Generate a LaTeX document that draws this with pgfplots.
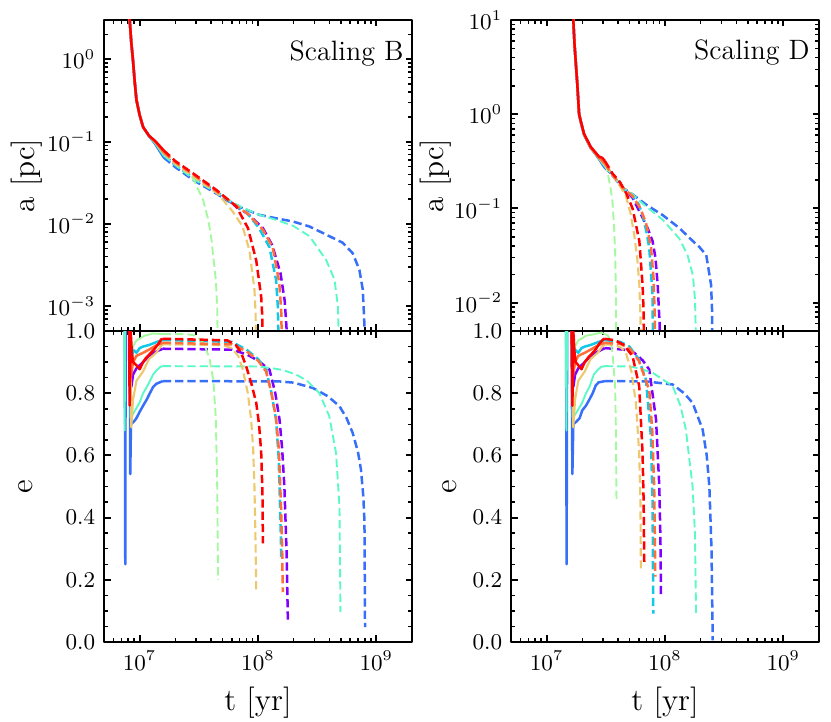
\documentclass[border=0pt]{standalone}
\usepackage{pgfplots}
\pgfplotsset{compat=1.18}
\definecolor{c0}{RGB}{128,0,255}
\definecolor{c1}{RGB}{55,111,249}
\definecolor{c2}{RGB}{18,200,230}
\definecolor{c3}{RGB}{91,249,200}
\definecolor{c4}{RGB}{164,249,159}
\definecolor{c5}{RGB}{237,200,111}
\definecolor{c6}{RGB}{255,111,57}
\definecolor{c7}{RGB}{255,0,0}
\tikzset{
 p0/.style={c0, line width=1.0pt},
 p1/.style={c1, line width=1.0pt},
 p2/.style={c2, line width=1.0pt},
 p3/.style={c3, line width=0.75pt},
 p4/.style={c4, line width=0.75pt},
 p5/.style={c5, line width=0.85pt},
 p6/.style={c6, line width=1.0pt},
 p7/.style={c7, line width=1.0pt},
 dsh/.style={dash pattern=on 3.3pt off 1.6pt},
}
\pgfplotsset{
 mypanel/.style={scale only axis, width=123.2pt, height=124.4pt, anchor=north west,
   xmin=5e6, xmax=2e9, xtick={1e7,1e8,1e9},
   minor xtick={6e6,7e6,8e6,9e6,2e7,3e7,4e7,5e7,6e7,7e7,8e7,9e7,2e8,3e8,4e8,5e8,6e8,7e8,8e8,9e8},
   tick align=inside, xtick pos=both, ytick pos=both,
   axis line style={line width=1.1pt},
   major tick length=2.6pt, minor tick length=1.5pt,
   every major tick/.append style={line width=0.8pt, black},
   every minor tick/.append style={line width=0.6pt, black},
   tick label style={font=\fontsize{9}{10}\selectfont},
   label style={font=\fontsize{12.5}{14}\selectfont}},
 mytopa/.style={mypanel, xticklabels={,,}, ylabel={a [pc]}},
 mybote/.style={mypanel, ymin=0, ymax=1, ytick={0,0.2,0.4,0.6,0.8,1.0}, minor y tick num=3,
   xlabel={t [yr]}, ylabel={e},
   yticklabel style={/pgf/number format/.cd, fixed, fixed zerofill, precision=1}},
}
\begin{document}
\begin{tikzpicture}[line join=round]
\useasboundingbox (0,0) rectangle (332.4pt,-288.8pt);
% ---------------- top left: Scaling B, a
\begin{axis}[xmode=log, ymode=log, mytopa, at={(41.6pt,-8pt)}, ymin=5e-4, ymax=3, ytick={1e-3,1e-2,1e-1,1},
  minor ytick={6e-4,7e-4,8e-4,9e-4,2e-3,3e-3,4e-3,5e-3,6e-3,7e-3,8e-3,9e-3,2e-2,3e-2,4e-2,5e-2,6e-2,7e-2,8e-2,9e-2,2e-1,3e-1,4e-1,5e-1,6e-1,7e-1,8e-1,9e-1,2},
  ylabel style={at={(rel axis cs:-0.25,0.5)}, anchor=center}]
\addplot[p0] coordinates {(7.6e6,100) (8.0e6,8) (8.24e6,3.0) (8.5e6,1.6) (8.77e6,1.0) (9.1e6,0.52) (9.4e6,0.32) (1.0e7,0.21) (1.07e7,0.15) (1.2e7,0.117) (1.35e7,0.097) (1.6e7,0.069)};
\addplot[p0,dsh] coordinates {(1.6e7,0.069) (2.0e7,0.052) (2.82e7,0.037) (4.44e7,0.0245) (6.55e7,0.0162) (8.22e7,0.0132) (1.1e8,0.0089) (1.32e8,0.0055) (1.55e8,0.0025) (1.68e8,0.00117) (1.74e8,0.00056) (1.78e8,0.0001)};
\addplot[p1] coordinates {(7.6e6,100) (8.0e6,8) (8.24e6,3.0) (8.5e6,1.6) (8.77e6,1.0) (9.1e6,0.52) (9.4e6,0.32) (1.0e7,0.21) (1.07e7,0.15) (1.2e7,0.117) (1.35e7,0.094) (1.6e7,0.064)};
\addplot[p1,dsh] coordinates {(1.6e7,0.064) (2.0e7,0.049) (2.82e7,0.0343) (4.44e7,0.0234) (5.4e7,0.0195) (7.41e7,0.0155) (1.02e8,0.0129) (1.42e8,0.0117) (1.97e8,0.0107) (2.72e8,0.0093) (3.77e8,0.0074) (5.2e8,0.0059) (6.31e8,0.0044) (7.19e8,0.00275) (7.67e8,0.0016) (7.93e8,0.00059) (8.0e8,0.0001)};
\addplot[p2] coordinates {(7.6e6,100) (8.0e6,8) (8.24e6,3.0) (8.5e6,1.6) (8.77e6,1.0) (9.1e6,0.52) (9.4e6,0.32) (1.0e7,0.21) (1.07e7,0.15) (1.2e7,0.117) (1.35e7,0.097) (1.6e7,0.068)};
\addplot[p2,dsh] coordinates {(1.6e7,0.068) (2.0e7,0.052) (2.82e7,0.0363) (4.44e7,0.0245) (6.55e7,0.0166) (8.22e7,0.0132) (1.02e8,0.0089) (1.25e8,0.0052) (1.42e8,0.0021) (1.47e8,0.001) (1.52e8,0.0001)};
\addplot[p3] coordinates {(7.6e6,100) (8.0e6,8) (8.24e6,3.0) (8.5e6,1.6) (8.77e6,1.0) (9.1e6,0.52) (9.4e6,0.32) (1.0e7,0.21) (1.07e7,0.15) (1.2e7,0.117) (1.35e7,0.096) (1.6e7,0.068)};
\addplot[p3,dsh] coordinates {(1.6e7,0.068) (2.0e7,0.052) (2.82e7,0.0355) (4.44e7,0.024) (5.4e7,0.020) (7.41e7,0.0158) (1.02e8,0.0129) (1.42e8,0.0112) (1.97e8,0.0095) (2.72e8,0.0071) (3.77e8,0.00363) (4.43e8,0.0021) (4.73e8,0.001) (4.95e8,0.0001)};
\addplot[p4] coordinates {(7.6e6,100) (8.0e6,8) (8.24e6,3.0) (8.5e6,1.6) (8.77e6,1.0) (9.1e6,0.52) (9.4e6,0.32) (1.0e7,0.21) (1.07e7,0.15) (1.2e7,0.117) (1.35e7,0.1) (1.6e7,0.073)};
\addplot[p4,dsh] coordinates {(1.6e7,0.073) (2.24e7,0.050) (2.82e7,0.036) (3.44e7,0.0195) (3.8e7,0.0112) (4.04e7,0.0065) (4.4e7,0.0021) (4.52e7,0.001) (4.62e7,0.0001)};
\addplot[p5] coordinates {(7.6e6,100) (8.0e6,8) (8.24e6,3.0) (8.5e6,1.6) (8.77e6,1.0) (9.1e6,0.52) (9.4e6,0.32) (1.0e7,0.21) (1.07e7,0.15) (1.2e7,0.117) (1.35e7,0.099) (1.6e7,0.072)};
\addplot[p5,dsh] coordinates {(1.6e7,0.072) (2.0e7,0.054) (2.82e7,0.038) (4.44e7,0.024) (5.0e7,0.020) (6.12e7,0.0141) (7.41e7,0.0093) (8.45e7,0.0048) (9.33e7,0.0016) (9.55e7,0.0008) (9.66e7,0.0001)};
\addplot[p6] coordinates {(7.6e6,100) (8.0e6,8) (8.24e6,3.0) (8.5e6,1.6) (8.77e6,1.0) (9.1e6,0.52) (9.4e6,0.32) (1.0e7,0.21) (1.07e7,0.15) (1.2e7,0.117) (1.35e7,0.1) (1.6e7,0.074)};
\addplot[p6,dsh] coordinates {(1.6e7,0.074) (2.0e7,0.056) (2.82e7,0.040) (4.44e7,0.025) (6.55e7,0.0166) (8.22e7,0.0132) (1.1e8,0.0085) (1.33e8,0.0052) (1.51e8,0.00195) (1.57e8,0.0009) (1.62e8,0.0001)};
\addplot[p7] coordinates {(7.6e6,100) (8.0e6,8) (8.24e6,3.0) (8.5e6,1.6) (8.77e6,1.0) (9.1e6,0.52) (9.4e6,0.32) (1.0e7,0.21) (1.07e7,0.15) (1.2e7,0.118) (1.35e7,0.102) (1.6e7,0.078)};
\addplot[p7,dsh] coordinates {(1.6e7,0.078) (2.0e7,0.058) (2.82e7,0.0412) (4.44e7,0.0259) (6.55e7,0.0163) (8.22e7,0.0089) (9.66e7,0.0036) (1.064e8,0.0013) (1.09e8,0.0007) (1.1e8,0.0001)};
\node[anchor=base east, font=\fontsize{11.2}{13}\selectfont, inner sep=0pt] at (rel axis cs:0.974,0.871) {Scaling B};
\end{axis}
% ---------------- top right: Scaling D, a
\begin{axis}[xmode=log, ymode=log, mytopa, at={(204.4pt,-8pt)}, ymin=5e-3, ymax=10, ytick={1e-2,1e-1,1,10},
  minor ytick={6e-3,7e-3,8e-3,9e-3,2e-2,3e-2,4e-2,5e-2,6e-2,7e-2,8e-2,9e-2,2e-1,3e-1,4e-1,5e-1,6e-1,7e-1,8e-1,9e-1,2,3,4,5,6,7,8,9},
  ylabel style={at={(rel axis cs:-0.243,0.5)}, anchor=center}]
\addplot[p0] coordinates {(1.55e7,300) (1.65e7,25) (1.68e7,10) (1.72e7,5.5) (1.815e7,2.1) (1.88e7,1.0) (1.95e7,0.82) (2.07e7,0.61) (2.36e7,0.44) (2.77e7,0.344) (3.1e7,0.285)};
\addplot[p0,dsh] coordinates {(3.1e7,0.285) (3.6e7,0.225) (4.38e7,0.165) (5.32e7,0.13) (6.46e7,0.08) (7.2e7,0.06) (7.85e7,0.045) (8.3e7,0.03) (8.67e7,0.0155) (9.0e7,0.006) (9.25e7,0.001)};
\addplot[p1] coordinates {(1.55e7,300) (1.65e7,25) (1.68e7,10) (1.72e7,5.5) (1.815e7,2.1) (1.88e7,1.0) (1.95e7,0.82) (2.07e7,0.61) (2.36e7,0.44) (2.77e7,0.335) (3.1e7,0.27)};
\addplot[p1,dsh] coordinates {(3.1e7,0.27) (3.6e7,0.228) (4.38e7,0.166) (5.32e7,0.141) (6.9e7,0.11) (9.55e7,0.085) (1.32e8,0.062) (1.72e8,0.045) (1.95e8,0.039) (2.23e8,0.032) (2.45e8,0.0155) (2.5e8,0.008) (2.53e8,0.001)};
\addplot[p2] coordinates {(1.55e7,300) (1.65e7,25) (1.68e7,10) (1.72e7,5.5) (1.815e7,2.1) (1.88e7,1.0) (1.95e7,0.82) (2.07e7,0.61) (2.36e7,0.44) (2.77e7,0.34) (3.1e7,0.285)};
\addplot[p2,dsh] coordinates {(3.1e7,0.285) (3.6e7,0.225) (4.38e7,0.166) (5.32e7,0.135) (6.0e7,0.11) (6.46e7,0.085) (7.0e7,0.055) (7.36e7,0.038) (7.85e7,0.012) (7.96e7,0.001)};
\addplot[p3] coordinates {(1.55e7,300) (1.65e7,25) (1.68e7,10) (1.72e7,5.5) (1.815e7,2.1) (1.88e7,1.0) (1.95e7,0.82) (2.07e7,0.61) (2.36e7,0.44) (2.77e7,0.338) (3.1e7,0.28)};
\addplot[p3,dsh] coordinates {(3.1e7,0.28) (3.6e7,0.23) (4.38e7,0.166) (5.32e7,0.141) (6.9e7,0.105) (9.55e7,0.076) (1.32e8,0.048) (1.55e8,0.032) (1.72e8,0.0195) (1.79e8,0.011) (1.82e8,0.005) (1.84e8,0.001)};
\addplot[p4] coordinates {(1.55e7,300) (1.65e7,25) (1.68e7,10) (1.72e7,5.5) (1.815e7,2.1) (1.88e7,1.0) (1.95e7,0.82) (2.07e7,0.61) (2.36e7,0.44) (2.77e7,0.345) (3.1e7,0.30)};
\addplot[p4,dsh] coordinates {(3.1e7,0.30) (3.25e7,0.25) (3.45e7,0.17) (3.6e7,0.119) (3.72e7,0.06) (3.79e7,0.035) (3.85e7,0.012) (3.89e7,0.001)};
\addplot[p5] coordinates {(1.55e7,300) (1.65e7,25) (1.68e7,10) (1.72e7,5.5) (1.815e7,2.1) (1.88e7,1.0) (1.95e7,0.82) (2.07e7,0.61) (2.36e7,0.44) (2.77e7,0.342) (3.1e7,0.29)};
\addplot[p5,dsh] coordinates {(3.1e7,0.29) (3.6e7,0.225) (4.2e7,0.17) (4.67e7,0.135) (5.1e7,0.09) (5.5e7,0.052) (5.85e7,0.028) (6.07e7,0.0155) (6.2e7,0.007) (6.25e7,0.001)};
\addplot[p6] coordinates {(1.55e7,300) (1.65e7,25) (1.68e7,10) (1.72e7,5.5) (1.815e7,2.1) (1.88e7,1.0) (1.95e7,0.82) (2.07e7,0.61) (2.36e7,0.44) (2.77e7,0.345) (3.1e7,0.30)};
\addplot[p6,dsh] coordinates {(3.1e7,0.30) (3.6e7,0.228) (4.38e7,0.167) (5.32e7,0.135) (6.2e7,0.1) (6.9e7,0.07) (7.6e7,0.04) (8.0e7,0.018) (8.2e7,0.007) (8.28e7,0.001)};
\addplot[p7] coordinates {(1.55e7,300) (1.65e7,25) (1.68e7,10) (1.72e7,5.5) (1.815e7,2.1) (1.88e7,1.0) (1.95e7,0.83) (2.07e7,0.62) (2.36e7,0.45) (2.77e7,0.355) (2.95e7,0.345) (3.1e7,0.32)};
\addplot[p7,dsh] coordinates {(3.1e7,0.32) (3.6e7,0.235) (4.17e7,0.19) (4.7e7,0.145) (5.32e7,0.10) (6.07e7,0.045) (6.46e7,0.0155) (6.6e7,0.008) (6.68e7,0.001)};
\node[anchor=base east, font=\fontsize{11.2}{13}\selectfont, inner sep=0pt] at (rel axis cs:0.971,0.873) {Scaling D};
\end{axis}
% ---------------- bottom left: Scaling B, e
\begin{axis}[xmode=log, mybote, at={(41.6pt,-132.4pt)},
  ylabel style={at={(rel axis cs:-0.255,0.5)}, anchor=center}]
\addplot[p0] coordinates {(8.3e6,1.05) (8.5e6,0.82) (8.8e6,0.86) (9.4e6,0.88) (1.07e7,0.90) (1.2e7,0.92) (1.4e7,0.935) (1.57e7,0.943)};
\addplot[p0,dsh] coordinates {(1.57e7,0.943) (6e7,0.94) (8e7,0.925) (1.0e8,0.905) (1.25e8,0.876) (1.4e8,0.8) (1.52e8,0.715) (1.6e8,0.62) (1.67e8,0.5) (1.74e8,0.3) (1.79e8,0.06)};
\addplot[p1] coordinates {(7.5e6,1.05) (7.56e6,0.25) (7.62e6,1.05) (8.25e6,1.05) (8.33e6,0.54) (8.45e6,0.70) (9.0e6,0.71) (9.4e6,0.72) (1.0e7,0.74) (1.07e7,0.76) (1.15e7,0.78) (1.22e7,0.80) (1.3e7,0.82) (1.38e7,0.83) (1.48e7,0.835) (1.57e7,0.839)};
\addplot[p1,dsh] coordinates {(1.57e7,0.839) (1.5e8,0.838) (2.0e8,0.834) (2.9e8,0.817) (3.9e8,0.79) (4.88e8,0.758) (5.6e8,0.72) (6.31e8,0.672) (7.0e8,0.61) (7.41e8,0.554) (7.75e8,0.47) (7.93e8,0.39) (8.02e8,0.048)};
\addplot[p2] coordinates {(8.2e6,1.05) (8.5e6,0.9) (8.8e6,0.94) (9.4e6,0.93) (1.0e7,0.945) (1.07e7,0.95) (1.2e7,0.955) (1.4e7,0.965) (1.57e7,0.971)};
\addplot[p2,dsh] coordinates {(1.57e7,0.971) (6e7,0.965) (8e7,0.94) (1.0e8,0.91) (1.17e8,0.876) (1.3e8,0.8) (1.42e8,0.715) (1.49e8,0.6) (1.52e8,0.5) (1.555e8,0.35) (1.57e8,0.263)};
\addplot[p3] coordinates {(7.42e6,1.05) (7.48e6,0.68) (7.54e6,1.05) (8.3e6,1.05) (8.4e6,0.72) (9.0e6,0.74) (1.0e7,0.77) (1.07e7,0.80) (1.15e7,0.82) (1.3e7,0.86) (1.4e7,0.875) (1.5e7,0.885) (1.57e7,0.887)};
\addplot[p3,dsh] coordinates {(1.57e7,0.887) (1.0e8,0.886) (1.33e8,0.88) (1.6e8,0.875) (2.1e8,0.86) (2.6e8,0.84) (3.3e8,0.80) (4.0e8,0.726) (4.56e8,0.608) (4.88e8,0.435) (4.97e8,0.097)};
\addplot[p4] coordinates {(8.3e6,1.05) (8.5e6,0.93) (8.8e6,0.95) (9.4e6,0.97) (1.0e7,0.975) (1.1e7,0.985) (1.3e7,0.992) (1.57e7,0.99)};
\addplot[p4,dsh] coordinates {(1.57e7,0.99) (2.5e7,0.99) (3.0e7,0.985) (3.5e7,0.96) (3.9e7,0.91) (4.2e7,0.84) (4.4e7,0.72) (4.52e7,0.5) (4.6e7,0.2)};
\addplot[p5] coordinates {(8.3e6,1.05) (8.5e6,0.69) (8.8e6,0.78) (9.4e6,0.84) (1.07e7,0.87) (1.2e7,0.91) (1.38e7,0.93) (1.5e7,0.95) (1.57e7,0.957)};
\addplot[p5,dsh] coordinates {(1.57e7,0.957) (5.0e7,0.955) (6.0e7,0.945) (6.8e7,0.92) (7.45e7,0.876) (8.2e7,0.8) (8.75e7,0.715) (9.1e7,0.62) (9.33e7,0.5) (9.55e7,0.3) (9.66e7,0.16)};
\addplot[p6] coordinates {(8.2e6,1.05) (8.4e6,0.85) (8.8e6,0.90) (9.4e6,0.92) (1.07e7,0.93) (1.2e7,0.94) (1.4e7,0.955) (1.57e7,0.962)};
\addplot[p6,dsh] coordinates {(1.57e7,0.962) (6e7,0.957) (8e7,0.935) (1.0e8,0.905) (1.17e8,0.87) (1.3e8,0.8) (1.42e8,0.72) (1.5e8,0.62) (1.56e8,0.45) (1.6e8,0.3) (1.62e8,0.16)};
\addplot[p7] coordinates {(8.1e6,1.05) (8.24e6,0.76) (8.4e6,1.0) (8.6e6,0.93) (8.8e6,0.90) (9.4e6,0.89) (1.0e7,0.877) (1.07e7,0.90) (1.14e7,0.915) (1.3e7,0.937) (1.45e7,0.96) (1.52e7,0.973) (1.57e7,0.975)};
\addplot[p7,dsh] coordinates {(1.57e7,0.975) (5.5e7,0.97) (6.5e7,0.955) (7.2e7,0.93) (7.94e7,0.887) (8.8e7,0.83) (9.66e7,0.769) (1.02e8,0.70) (1.064e8,0.61) (1.09e8,0.48) (1.1e8,0.317)};
\end{axis}
% ---------------- bottom right: Scaling D, e
\begin{axis}[xmode=log, mybote, at={(204.4pt,-132.4pt)},
  ylabel style={at={(rel axis cs:-0.2,0.5)}, anchor=center}]
\addplot[p0] coordinates {(1.64e7,1.05) (1.68e7,0.82) (1.74e7,0.86) (1.85e7,0.88) (2.1e7,0.90) (2.35e7,0.92) (2.75e7,0.935) (3.1e7,0.945)};
\addplot[p0,dsh] coordinates {(3.1e7,0.945) (4.5e7,0.94) (5.5e7,0.93) (6.5e7,0.905) (7.36e7,0.876) (8.4e7,0.715) (8.95e7,0.5) (9.15e7,0.33) (9.25e7,0.145)};
\addplot[p1] coordinates {(1.46e7,1.05) (1.475e7,0.25) (1.49e7,1.05) (1.62e7,1.05) (1.65e7,0.54) (1.68e7,0.70) (1.8e7,0.71) (1.9e7,0.72) (2.0e7,0.745) (2.15e7,0.76) (2.3e7,0.78) (2.45e7,0.80) (2.6e7,0.825) (2.75e7,0.835) (2.95e7,0.837) (3.1e7,0.839)};
\addplot[p1,dsh] coordinates {(3.1e7,0.839) (6.9e7,0.838) (8.5e7,0.834) (1.16e8,0.828) (1.45e8,0.80) (1.71e8,0.769) (2.08e8,0.683) (2.25e8,0.6) (2.37e8,0.5) (2.47e8,0.3) (2.53e8,0.005)};
\addplot[p2] coordinates {(1.62e7,1.05) (1.68e7,0.9) (1.74e7,0.94) (1.85e7,0.93) (1.97e7,0.945) (2.1e7,0.95) (2.35e7,0.955) (2.75e7,0.965) (3.1e7,0.971)};
\addplot[p2,dsh] coordinates {(3.1e7,0.971) (4.2e7,0.965) (5.0e7,0.95) (6.0e7,0.91) (6.9e7,0.844) (7.6e7,0.661) (7.85e7,0.45) (7.96e7,0.091)};
\addplot[p3] coordinates {(1.45e7,1.05) (1.47e7,0.68) (1.49e7,1.05) (1.63e7,1.05) (1.66e7,0.72) (1.8e7,0.74) (2.0e7,0.77) (2.15e7,0.80) (2.3e7,0.82) (2.5e7,0.86) (2.7e7,0.875) (2.9e7,0.885) (3.1e7,0.887)};
\addplot[p3,dsh] coordinates {(3.1e7,0.887) (5.0e7,0.886) (6.0e7,0.88) (7.85e7,0.866) (1.16e8,0.823) (1.35e8,0.76) (1.5e8,0.683) (1.71e8,0.5) (1.79e8,0.35) (1.83e8,0.091)};
\addplot[p4] coordinates {(1.64e7,1.05) (1.68e7,0.93) (1.74e7,0.95) (1.85e7,0.97) (1.97e7,0.975) (2.15e7,0.985) (2.55e7,0.99) (2.9e7,0.995) (3.1e7,0.99)};
\addplot[p4,dsh] coordinates {(3.1e7,0.99) (3.3e7,0.985) (3.45e7,0.97) (3.6e7,0.93) (3.79e7,0.82) (3.85e7,0.68) (3.89e7,0.457)};
\addplot[p5] coordinates {(1.64e7,1.05) (1.68e7,0.69) (1.74e7,0.78) (1.85e7,0.84) (2.1e7,0.87) (2.35e7,0.91) (2.7e7,0.93) (2.95e7,0.95) (3.1e7,0.957)};
\addplot[p5,dsh] coordinates {(3.1e7,0.957) (3.8e7,0.955) (4.3e7,0.945) (4.67e7,0.93) (5.2e7,0.87) (5.68e7,0.769) (6.05e7,0.608) (6.2e7,0.45) (6.25e7,0.237)};
\addplot[p6] coordinates {(1.62e7,1.05) (1.66e7,0.85) (1.74e7,0.90) (1.85e7,0.92) (2.1e7,0.93) (2.35e7,0.94) (2.75e7,0.955) (3.1e7,0.962)};
\addplot[p6,dsh] coordinates {(3.1e7,0.962) (4.2e7,0.958) (5.0e7,0.945) (6.0e7,0.905) (7.36e7,0.81) (7.8e7,0.68) (8.1e7,0.5) (8.28e7,0.21)};
\addplot[p7] coordinates {(1.62e7,1.05) (1.65e7,0.76) (1.68e7,1.0) (1.72e7,0.93) (1.76e7,0.90) (1.85e7,0.89) (1.97e7,0.877) (2.1e7,0.90) (2.25e7,0.915) (2.55e7,0.937) (2.8e7,0.96) (3.0e7,0.973) (3.1e7,0.975)};
\addplot[p7,dsh] coordinates {(3.1e7,0.975) (3.8e7,0.97) (4.5e7,0.955) (5.32e7,0.919) (6.05e7,0.823) (6.46e7,0.608) (6.6e7,0.45) (6.68e7,0.253)};
\end{axis}
\end{tikzpicture}
\end{document}
